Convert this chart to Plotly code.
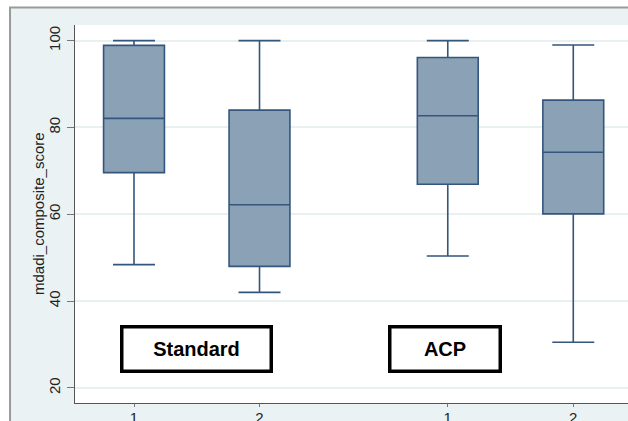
import plotly.graph_objects as go

# Data
positions = [1, 2, 3.5, 4.5]
tick_labels = ["1", "2", "1", "2"]
lower_whisker = [48.4, 42.0, 50.4, 30.5]
q1_vals = [69.6, 48.0, 66.9, 60.1]
median_vals = [82.1, 62.2, 82.7, 74.3]
q3_vals = [98.9, 84.0, 96.1, 86.3]
upper_whisker = [100.0, 100.0, 100.0, 99.0]
group_labels = ["Standard", "ACP"]
group_centers = [1.494, 3.474]
y_title = "mdadi_composite_score"

FILL = "#8ba2b6"
LINE = "#34557c"
FONT = "Liberation Sans, Arial, sans-serif"

fig = go.Figure()
for i, p in enumerate(positions):
    fig.add_trace(go.Box(
        x=[p], q1=[q1_vals[i]], median=[median_vals[i]], q3=[q3_vals[i]],
        lowerfence=[lower_whisker[i]], upperfence=[upper_whisker[i]],
        width=0.485, whiskerwidth=0.69,
        fillcolor=FILL, line=dict(color=LINE, width=1.6),
        showlegend=False, boxpoints=False, hoverinfo="skip",
    ))

for lab, cx in zip(group_labels, group_centers):
    fig.add_annotation(
        x=cx, y=28.85, xref="x", yref="y", text="<b>%s</b>" % lab,
        showarrow=False, font=dict(family=FONT, size=20, color="black"),
        bordercolor="black", borderwidth=3.5, borderpad=0,
        bgcolor="white",
        width=(146 if lab == "Standard" else 107), height=41,
    )

fig.add_annotation(
    x=-0.0669, y=0.5, xref="paper", yref="paper", text=y_title,
    textangle=-90, showarrow=False, xanchor="center", yanchor="middle",
    font=dict(family=FONT, size=15, color="#222"),
)

# outer frame and white plot region
fig.add_shape(type="rect", xref="paper", yref="paper",
              x0=-0.1175, x1=1.2, y0=-0.3, y1=1.0463,
              fillcolor="#eaf2f3", line=dict(color="#9a9a9a", width=2),
              layer="below")
fig.add_shape(type="rect", xref="paper", yref="paper",
              x0=0, x1=1.2, y0=0, y1=1,
              fillcolor="white", line=dict(width=0), layer="below")

fig.update_layout(
    width=628, height=421,
    margin=dict(l=75, r=0, t=25, b=18, autoexpand=False),
    paper_bgcolor="white", plot_bgcolor="white",
    font=dict(family=FONT, size=15, color="#222"),
)
fig.update_xaxes(
    range=[0.5299, 4.936], tickvals=positions, ticktext=tick_labels,
    showgrid=False, zeroline=False, showline=True, linecolor="#555",
    linewidth=1.2, ticks="outside", ticklen=3, tickcolor="#777",
    tickfont=dict(size=15, color="#222"), automargin=False,
    ticklabelstandoff=-2,
)
fig.update_yaxes(
    range=[16.52, 103.6], tickvals=[20, 40, 60, 80, 100],
    showgrid=True, gridcolor="#e8f0f0", gridwidth=1.5, zeroline=False,
    showline=True, linecolor="#555", linewidth=1.2,
    ticks="outside", ticklen=7, tickcolor="#777", tickangle=-90,
    tickfont=dict(size=15, color="#222"), automargin=False,
    ticklabelstandoff=1,
)

fig.write_html(
    "out.html",
    config={"displayModeBar": False},
    post_script="document.body.style.margin='0';document.body.style.overflow='hidden';",
)
